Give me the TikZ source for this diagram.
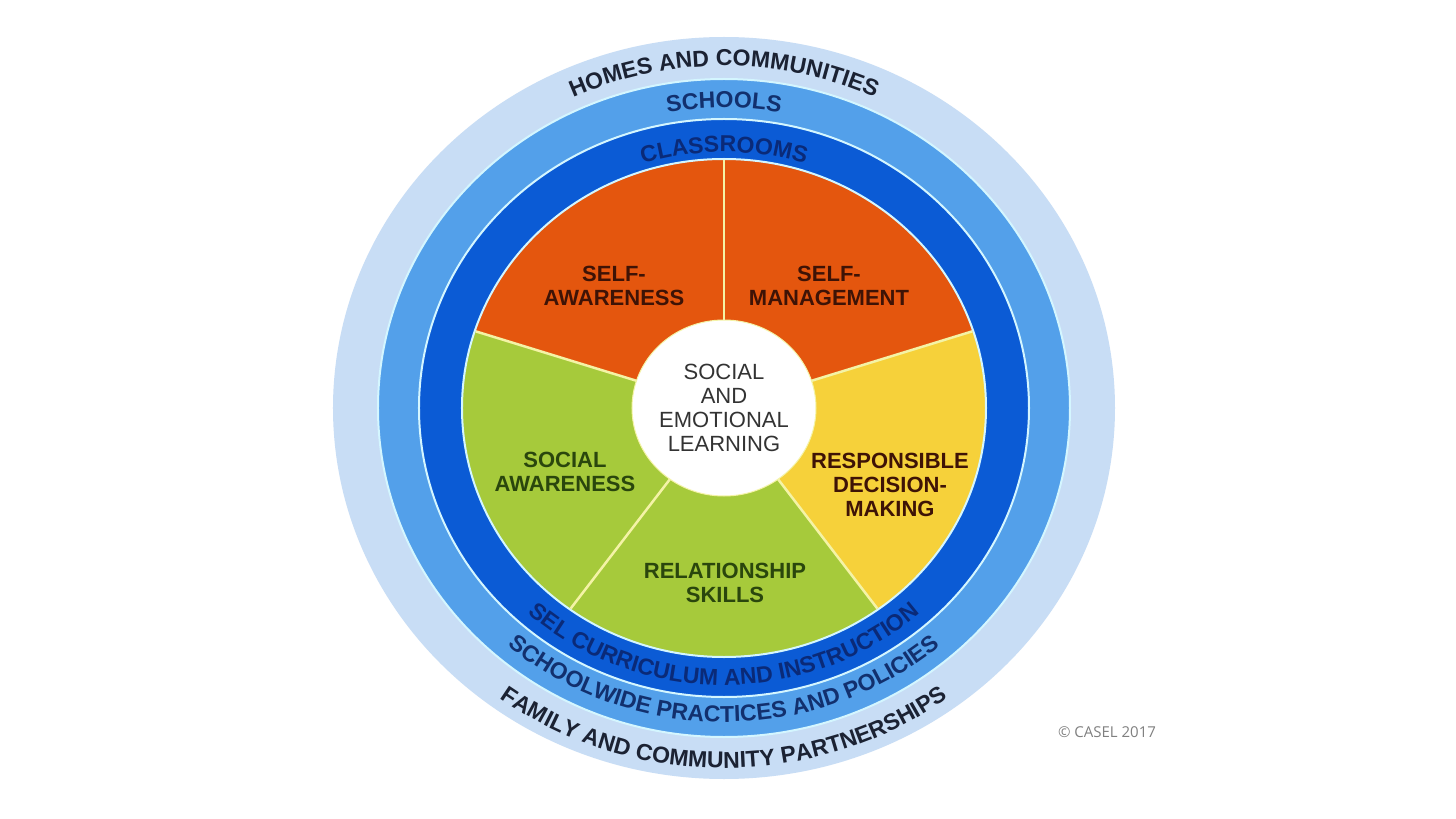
\documentclass[tikz,border=0pt]{standalone}
\usepackage{fontspec}
\setmainfont{Liberation Sans}
\setsansfont{Liberation Sans}
\newfontfamily\caselfont{Open Sans}
\usetikzlibrary{decorations.text}

\definecolor{ringlight}{HTML}{C8DDF5}
\definecolor{ringmid}{HTML}{53A0EA}
\definecolor{ringdark}{HTML}{0B5BD5}
\definecolor{ringedge}{HTML}{D4F6FF}
\definecolor{selforange}{HTML}{E4560E}
\definecolor{decyellow}{HTML}{F6D13A}
\definecolor{socgreen}{HTML}{A6CA3B}
\definecolor{sliceline}{HTML}{F4F3A6}
\definecolor{brownink}{HTML}{3E1306}
\definecolor{greenink}{HTML}{2A460D}
\definecolor{navyink}{HTML}{12306E}
\definecolor{deepink}{HTML}{0A2A78}
\definecolor{darkink}{HTML}{1B2233}

\newcommand\ringtype{\fontsize{23}{27}\selectfont\bfseries}

\tikzset{
  ringedge/.style={draw=ringedge, line width=2pt},
  sliceedge/.style={draw=sliceline, line width=2.5pt},
  seglabel/.style={align=center, font=\fontsize{22}{24}\selectfont\bfseries},
  ringtext/.style n args={2}{decorate, decoration={text along path, text align=center,
      text color=#1, text={|\ringtype|#2}}},
}

\begin{document}
\begin{tikzpicture}[x=1pt,y=1pt]
  \useasboundingbox (-724,-411) rectangle (732,408);
  \fill[white] (-724,-411) rectangle (732,408);

  % rings
  \fill[ringlight] (0,0) ellipse[x radius=391pt, y radius=371pt];
  \draw[ringedge, fill=ringmid] (0,0) ellipse[x radius=346pt, y radius=329pt];
  \draw[ringedge, fill=ringdark] (0,0) ellipse[x radius=305pt, y radius=289pt];

  % the five slices
  \foreach \a/\b/\c in {90/162/selforange, 162/234/socgreen, 234/306/socgreen,
                        -54/18/decyellow, 18/90/selforange}
    \fill[\c] (0,0) -- (\a:262pt and 249pt)
      arc[start angle=\a, end angle=\b, x radius=262pt, y radius=249pt] -- cycle;
  \draw[ringedge] (0,0) ellipse[x radius=262pt, y radius=249pt];
  \foreach \a in {90,18,-54,-126,162}
    \draw[sliceedge] (\a:92pt and 88pt) -- (\a:261pt and 248pt);

  \fill[white] (0,0) ellipse[x radius=92pt, y radius=88pt];
  \draw[sliceline, line width=1pt] (0,0) ellipse[x radius=92pt, y radius=88pt];

  \node[align=center, text=black!80, font=\fontsize{22}{24}\selectfont] (sel) at (0,0)
    {SOCIAL\\AND\\EMOTIONAL\\LEARNING};

  \node[seglabel, text=brownink] (selfaware) at (-110,122) {SELF-\\AWARENESS};
  \node[seglabel, text=brownink] (selfmanage) at (105,122) {SELF-\\MANAGEMENT};
  \node[seglabel, text=brownink] (decision) at (166,-77) {RESPONSIBLE\\DECISION-\\MAKING};
  \node[seglabel, text=greenink] (relation) at (1,-175) {RELATIONSHIP\\SKILLS};
  \node[seglabel, text=greenink] (socaware) at (-159,-64) {SOCIAL\\AWARENESS};

  % text round the rings
  \path[ringtext={darkink}{HOMES AND COMMUNITIES}] (150:360pt and 342pt)
    arc[start angle=150, end angle=30, x radius=360pt, y radius=342pt];
  \path[ringtext={navyink}{SCHOOLS}] (150:316pt and 300pt)
    arc[start angle=150, end angle=30, x radius=316pt, y radius=300pt];
  \path[ringtext={deepink}{CLASSROOMS}] (150:270pt and 256pt)
    arc[start angle=150, end angle=30, x radius=270pt, y radius=256pt];

  \path[ringtext={deepink}{SEL CURRICULUM AND INSTRUCTION}] (200:292pt and 277pt)
    arc[start angle=200, end angle=340, x radius=292pt, y radius=277pt];
  \path[ringtext={navyink}{SCHOOLWIDE PRACTICES AND POLICIES}] (200:331pt and 314pt)
    arc[start angle=200, end angle=340, x radius=331pt, y radius=314pt];
  \path[ringtext={darkink}{FAMILY AND COMMUNITY PARTNERSHIPS}] (200:379pt and 360pt)
    arc[start angle=200, end angle=340, x radius=379pt, y radius=360pt];

  \node[text=black!50, font=\caselfont\fontsize{15}{18}\selectfont] (casel) at (383,-324)
    {\textcopyright\ CASEL 2017};
\end{tikzpicture}
\end{document}
